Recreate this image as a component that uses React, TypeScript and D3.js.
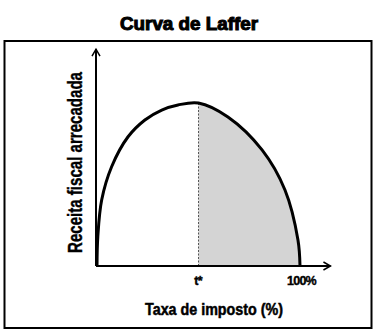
import React from "react";
import * as d3 from "d3";

// Laffer curve: tax revenue collected against tax rate (0–100 %)
const taxRate = [0, 0.4, 2.3, 7.2, 15.3, 23.6, 31.9, 39.9, 50, 64.5, 81.3, 92.6, 99, 100];
const revenue = [0, 18, 40.5, 60.9, 79.3, 89.6, 95.7, 98.8, 100, 91.4, 71.2, 46.6, 15.9, 0];

// Rate that maximises revenue, and the labelled positions on the x axis
const optimalRate = 50;
const tickValues = [50, 100];
const tickLabels = ["t*", "100%"];

const title = "Curva de Laffer";
const xTitle = "Taxa de imposto (%)";
const yTitle = "Receita fiscal arrecadada";

const W = 378;
const H = 334;

export default function App() {
  const x = d3.scaleLinear().domain([0, 100]).range([97, 300]);
  const y = d3.scaleLinear().domain([0, 100]).range([266, 103]);

  const pts: [number, number][] = taxRate.map((t, i) => [t, revenue[i]]);

  const line = d3
    .line<[number, number]>()
    .x((d) => x(d[0]))
    .y((d) => y(d[1]))
    .curve(d3.curveCatmullRom.alpha(0.5));

  const area = d3
    .area<[number, number]>()
    .x((d) => x(d[0]))
    .y0(y(0))
    .y1((d) => y(d[1]))
    .curve(d3.curveCatmullRom.alpha(0.5));

  const peakIdx = taxRate.indexOf(optimalRate);
  const peakRevenue = revenue[peakIdx];

  const axisX0 = x(0) - 1;
  const axisY0 = y(0);
  const xEnd = x(115);
  const yEnd = y(133);

  const font = "'Liberation Sans', Arial, sans-serif";

  return (
    <svg
      width={W}
      height={H}
      style={{ position: "absolute", left: 0, top: 0, background: "#fff" }}
    >
      <defs>
        <clipPath id="right-of-peak">
          <rect x={x(optimalRate)} y={0} width={W} height={H} />
        </clipPath>
      </defs>

      <text
        x={189}
        y={29.5}
        textAnchor="middle"
        fontFamily={font}
        fontWeight="bold"
        fontSize={17.5}
        textLength={138}
        lengthAdjust="spacingAndGlyphs"
        stroke="#000"
        strokeWidth={1}
      >
        {title}
      </text>

      <rect x={4.5} y={41} width={367} height={287} fill="none" stroke="#000" strokeWidth={2} />

      {/* shaded region beyond the revenue-maximising rate */}
      <path d={area(pts) ?? ""} fill="#d4d4d4" clipPath="url(#right-of-peak)" />

      <line
        x1={x(optimalRate)}
        x2={x(optimalRate)}
        y1={y(peakRevenue)}
        y2={axisY0}
        stroke="#555"
        strokeWidth={1}
        strokeDasharray="2,1.5"
      />

      {/* axes with open arrow heads */}
      <g stroke="#000" strokeWidth={2} fill="none">
        <line x1={axisX0} y1={axisY0} x2={axisX0} y2={yEnd} />
        <polyline points={`${axisX0 - 4},${yEnd + 7} ${axisX0},${yEnd} ${axisX0 + 4},${yEnd + 7}`} strokeWidth={1.5} />
        <line x1={axisX0} y1={axisY0} x2={xEnd} y2={axisY0} />
        <polyline points={`${xEnd - 7},${axisY0 - 4} ${xEnd},${axisY0} ${xEnd - 7},${axisY0 + 4}`} strokeWidth={1.5} />
      </g>

      <path d={line(pts) ?? ""} fill="none" stroke="#000" strokeWidth={3} />

      {tickValues.map((v, i) => (
        <text
          key={v}
          x={x(v) + (i === 0 ? -0.5 : 1.5)}
          y={285}
          textAnchor="middle"
          fontFamily={font}
          fontWeight="bold"
          fontSize={12.5}
          letterSpacing={-0.8}
          stroke="#000"
          strokeWidth={0.4}
        >
          {tickLabels[i]}
        </text>
      ))}

      <text
        x={214}
        y={315}
        textAnchor="middle"
        fontFamily={font}
        fontWeight="bold"
        fontSize={16.5}
        textLength={138}
        lengthAdjust="spacingAndGlyphs"
        stroke="#000"
        strokeWidth={0.5}
      >
        {xTitle}
      </text>

      <text
        transform={`translate(81.5,162.5) rotate(-90)`}
        textAnchor="middle"
        fontFamily={font}
        fontWeight="bold"
        fontSize={20}
        textLength={181}
        lengthAdjust="spacingAndGlyphs"
        stroke="#000"
        strokeWidth={0.4}
      >
        {yTitle}
      </text>
    </svg>
  );
}
